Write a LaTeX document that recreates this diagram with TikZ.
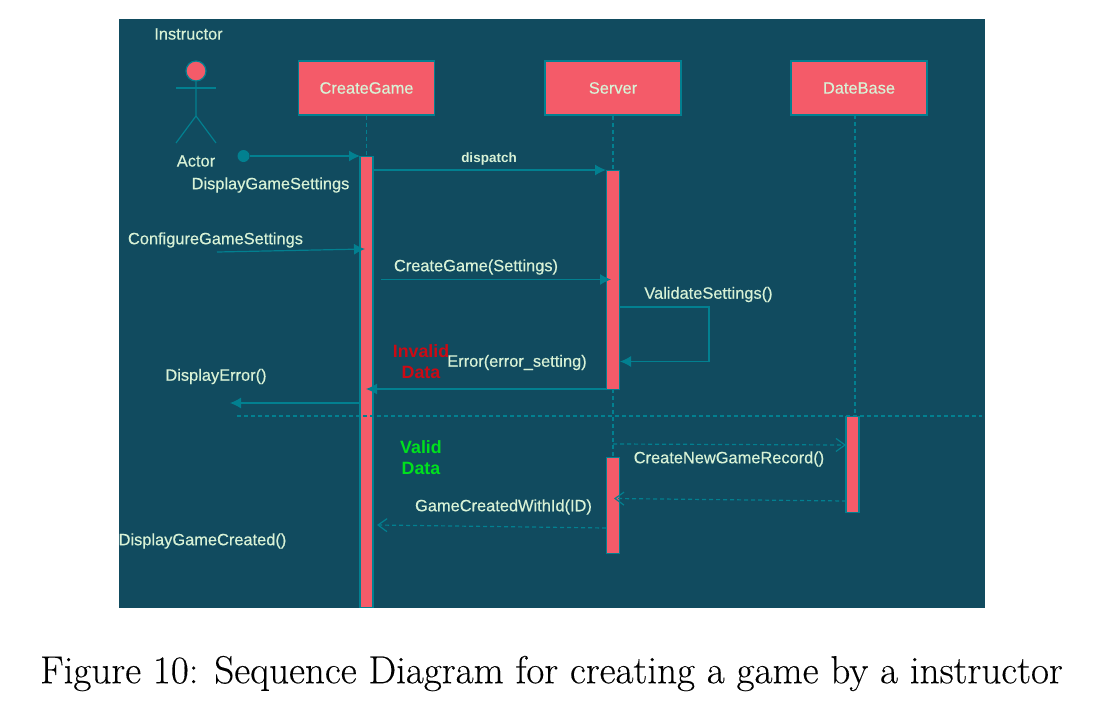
\documentclass[tikz,border=0pt]{standalone}
\usepackage{fontspec}
\setmainfont{Latin Modern Roman}
\newfontfamily\capf[FakeBold=0.25]{Latin Modern Roman}
\newfontfamily\lab[FakeBold=0.4]{Liberation Sans}
\newfontfamily\labb{Liberation Sans Bold}
\usetikzlibrary{arrows.meta,positioning}
\definecolor{bgc}{HTML}{114B5F}
\definecolor{redf}{HTML}{F45B69}
\definecolor{edge}{HTML}{028090}
\definecolor{txt}{HTML}{D8F2D6}
\definecolor{okc}{HTML}{00E01E}
\definecolor{badc}{HTML}{CC0A14}
\tikzset{
  x=1pt,y=-1pt,
  head/.style={draw=edge,fill=redf,line width=1.2pt,minimum width=136pt,minimum height=54pt,inner sep=0,text=txt,font=\lab\fontsize{16.4}{18}\selectfont},
  act/.style={draw=edge,fill=redf,line width=1.2pt,minimum width=13pt,inner sep=0},
  lbl/.style={text=txt,inner sep=0,font=\lab\fontsize{16.4}{18}\selectfont},
  cond/.style={inner sep=0,align=center,font=\labb\fontsize{17.8}{21}\selectfont},
  msg/.style={draw=edge,line width=1.2pt,-{Latex[length=11pt,width=11pt]}},
  ret/.style={draw=edge,line width=1.2pt,dash pattern=on 4pt off 3pt,-{Straight Barb[length=9pt,width=13pt]}},
  life/.style={draw=edge,line width=1.2pt,dash pattern=on 4pt off 3pt},
  stick/.style={draw=edge,line width=1.2pt},
}
\begin{document}
\begin{tikzpicture}
\useasboundingbox (0,0) rectangle (1095,707);
\node[fill=bgc,minimum width=866pt,minimum height=589pt,inner sep=0,anchor=north west] (bg) at (118.5,19) {};

% head boxes
\node[head] (cg) at (366.5,88) {CreateGame};
\node[head] (sv) at (613,88) {Server};
\node[head] (db) at (859,88) {DateBase};

% helper coordinates
\coordinate (cgl) at (366.5,156);
\coordinate (svl) at (613,170);
\coordinate (sva) at (613,389);
\coordinate (svb) at (613,457);
\coordinate (dbt) at (855,115);
\coordinate (dbl) at (855,416);
\coordinate (sepl) at (237,416);
\coordinate (sepr) at (982,416);

% lifelines
\draw[life] (cg.south) -- (cgl);
\draw[life] (sv.south) -- (svl);
\draw[life] (sva) -- (svb);
\draw[life] (dbt) -- (dbl);

% activations
\node[act,minimum height=451pt,anchor=north] (a1) at (366.5,156) {};
\node[act,minimum height=219pt,anchor=north] (a2) at (613,170) {};
\node[act,minimum height=96pt,anchor=north] (a3) at (613,457) {};
\node[act,minimum height=96pt,anchor=north] (a4) at (852.5,416) {};

% separator
\draw[life] (sepl) -- (sepr);

% actor
\node[circle,draw=edge,fill=redf,line width=1.2pt,minimum size=20pt,inner sep=0] (ah) at (196,71) {};
\coordinate (armL) at (176,88);
\coordinate (armR) at (216,88);
\coordinate (hip) at (196,116);
\coordinate (legL) at (176,143);
\coordinate (legR) at (216,143);
\draw[stick] (ah.south) -- (hip) -- (legL);
\draw[stick] (hip) -- (legR);
\draw[stick] (armL) -- (armR);
\node[lbl] (instr) at (188.5,34) {Instructor};
\node[lbl] (actor) at (196,161) {Actor};

% messages
\node[circle,fill=edge,minimum size=12pt,inner sep=0] (dot) at (243.5,156) {};
\coordinate (m1e) at (360,156);
\draw[msg] (dot) -- (m1e);
\node[lbl] at (270.5,185) {DisplayGameSettings};

\coordinate (m2s) at (373,170);
\coordinate (m2e) at (606,170);
\draw[msg] (m2s) -- (m2e);
\node[lbl,font=\labb\fontsize{13.5}{15}\selectfont] at (489,159) {dispatch};

\coordinate (m3s) at (217,252);
\coordinate (m3e) at (365,249);
\draw[msg] (m3s) -- (m3e);
\node[lbl] at (215.5,240) {ConfigureGameSettings};

\coordinate (m4s) at (381,279.5);
\coordinate (m4e) at (611,279.5);
\draw[msg] (m4s) -- (m4e);
\node[lbl] at (476,267) {CreateGame(Settings)};

\coordinate (m5s) at (620,307);
\coordinate (m5a) at (709,307);
\coordinate (m5b) at (709,361.5);
\coordinate (m5e) at (620,361.5);
\draw[msg] (m5s) -- (m5a) -- (m5b) -- (m5e);
\node[lbl] at (708.5,294.5) {ValidateSettings()};

\coordinate (m6s) at (606,389);
\coordinate (m6e) at (366,389);
\draw[msg] (m6s) -- (m6e);
\node[lbl] at (517,362.5) {Error(error\_setting)};
\node[cond,text=badc] at (421,362) {Invalid\\Data};

\coordinate (m7s) at (360,403);
\coordinate (m7e) at (230,403);
\draw[msg] (m7s) -- (m7e);
\node[lbl] at (216,376.5) {DisplayError()};

\node[cond,text=okc] at (421,457.5) {Valid\\Data};

\coordinate (m8s) at (613,444);
\coordinate (m8e) at (846,445);
\draw[ret] (m8s) -- (m8e);
\node[lbl] at (729,459) {CreateNewGameRecord()};

\coordinate (m9s) at (846,501);
\coordinate (m9e) at (614,498.5);
\draw[ret] (m9s) -- (m9e);
\node[lbl] at (503.5,507) {GameCreatedWithId(ID)};

\coordinate (m10s) at (606,528);
\coordinate (m10e) at (377,525);
\draw[ret] (m10s) -- (m10e);
\node[lbl] at (202.5,541) {DisplayGameCreated()};

% caption
\node[inner sep=0,font=\capf\fontsize{39.1}{46}\selectfont] (cap) at (551.5,673.5) {Figure 10: Sequence Diagram for creating a game by a instructor};
\end{tikzpicture}
\end{document}
